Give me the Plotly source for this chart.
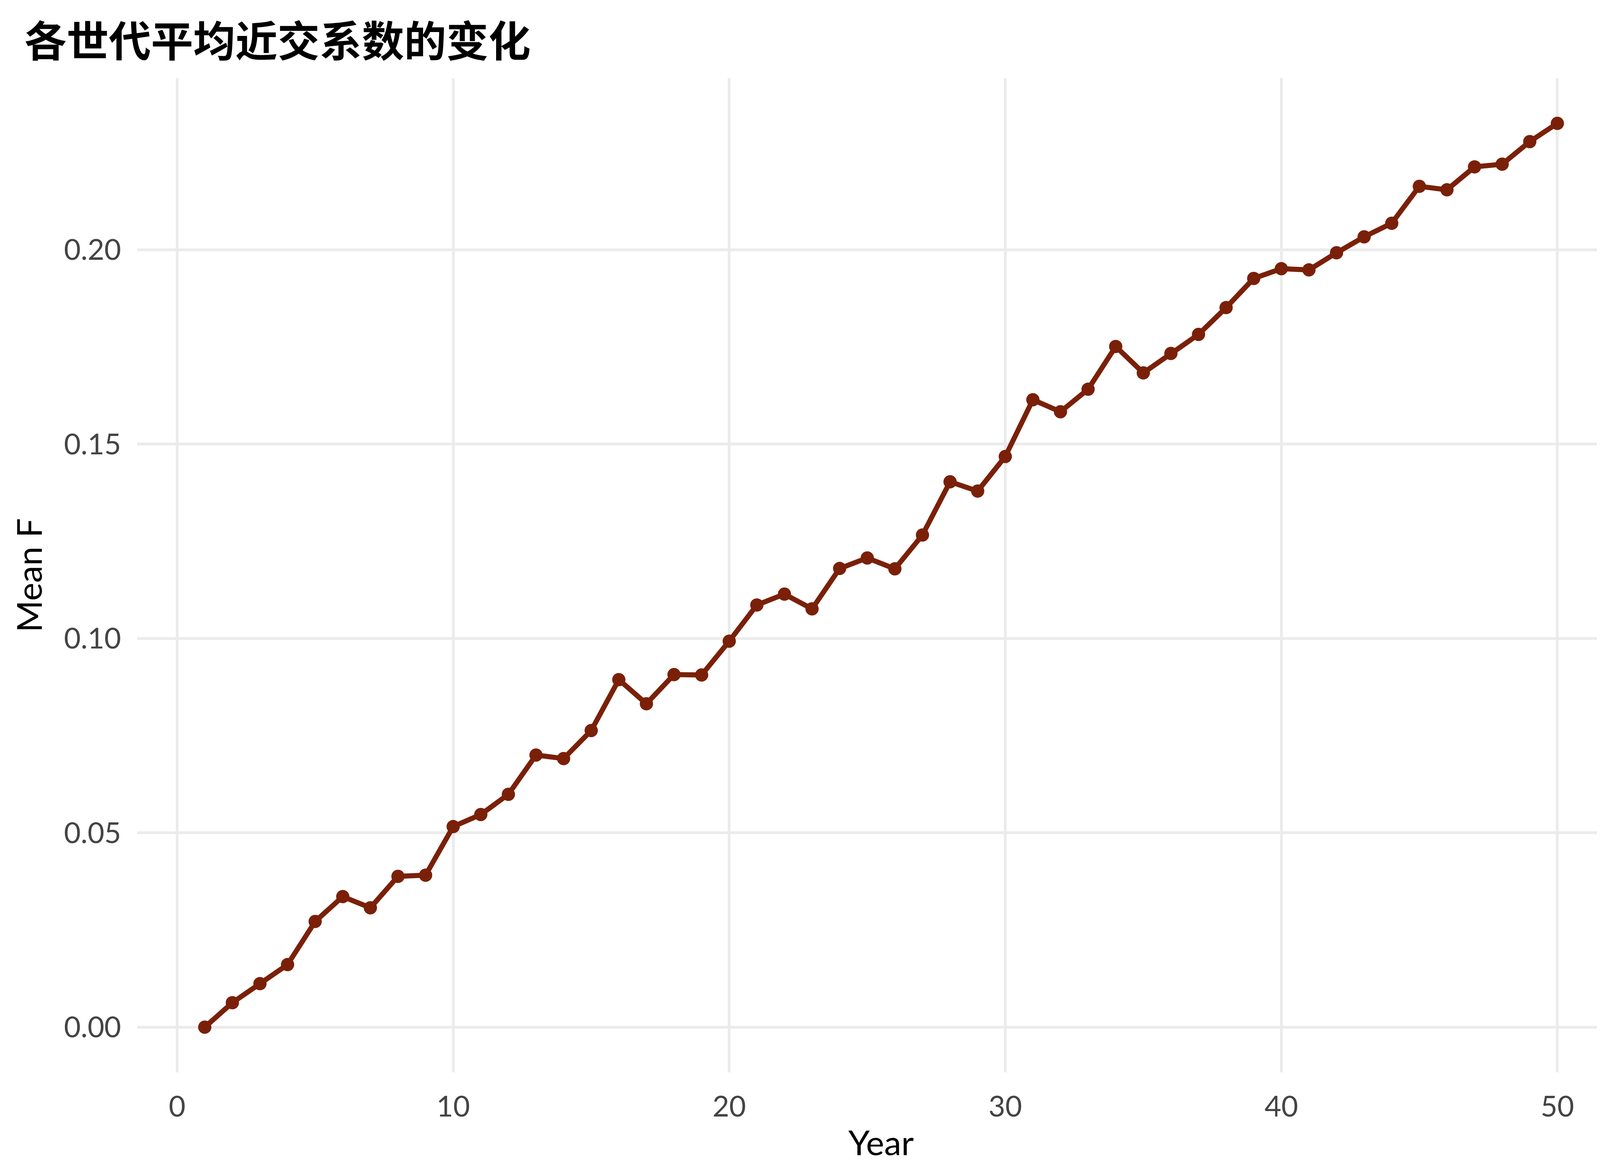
import plotly.graph_objects as go

# mean inbreeding coefficient per generation
years = list(range(1, 51))
mean_f = [
    0.0000, 0.0063, 0.0112, 0.0161, 0.0272, 0.0336, 0.0307, 0.0388, 0.0391, 0.0516,
    0.0547, 0.0599, 0.0700, 0.0691, 0.0763, 0.0894, 0.0832, 0.0907, 0.0906, 0.0993,
    0.1086, 0.1114, 0.1076, 0.1180, 0.1207, 0.1179, 0.1266, 0.1403, 0.1379, 0.1468,
    0.1614, 0.1583, 0.1641, 0.1751, 0.1683, 0.1733, 0.1782, 0.1851, 0.1926, 0.1951,
    0.1948, 0.1992, 0.2033, 0.2068, 0.2163, 0.2154, 0.2213, 0.2220, 0.2278, 0.2325,
]
x_ticks = [0, 10, 20, 30, 40, 50]
y_ticks = [0.00, 0.05, 0.10, 0.15, 0.20]

line_col = "#7a2008"
grid_col = "#ebebeb"
tick_font = dict(family="Lato", size=74, color="#444444")
axis_font = dict(family="Lato", size=88, color="#000000")

fig = go.Figure()
fig.add_trace(go.Scatter(
    x=years, y=mean_f, mode="lines+markers",
    line=dict(color=line_col, width=13),
    marker=dict(color=line_col, size=34, line=dict(width=0)),
    showlegend=False
))

# ggplot-style 5% expansion on both axes
x_pad = (max(years) - min(years)) * 0.05
y_pad = (max(mean_f) - min(mean_f)) * 0.05

fig.update_xaxes(
    range=[min(years) - x_pad, max(years) + x_pad],
    tickvals=x_ticks, tickfont=tick_font, ticklabelstandoff=38,
    showgrid=True, gridcolor=grid_col, gridwidth=7,
    zeroline=False, showline=False, ticks="",
    title=dict(text="Year", font=axis_font, standoff=22)
)
fig.update_yaxes(
    range=[min(mean_f) - y_pad, max(mean_f) + y_pad],
    tickvals=y_ticks, tickformat=".2f", tickfont=tick_font, ticklabelstandoff=40,
    showgrid=True, gridcolor=grid_col, gridwidth=7,
    zeroline=False, showline=False, ticks="",
    title=dict(text="Mean F", font=axis_font, standoff=26)
)

fig.update_layout(
    width=4200, height=3000,
    paper_bgcolor="white", plot_bgcolor="white",
    margin=dict(l=343, r=48, t=192, b=263, autoexpand=False),
    title=dict(
        text="<b>各世代平均近交系数的变化</b>",
        font=dict(family="Noto Sans CJK SC", size=108, color="#000000"),
        x=0.013, xanchor="left", y=0.967, yanchor="middle"
    )
)

fig.write_html("out.html")
